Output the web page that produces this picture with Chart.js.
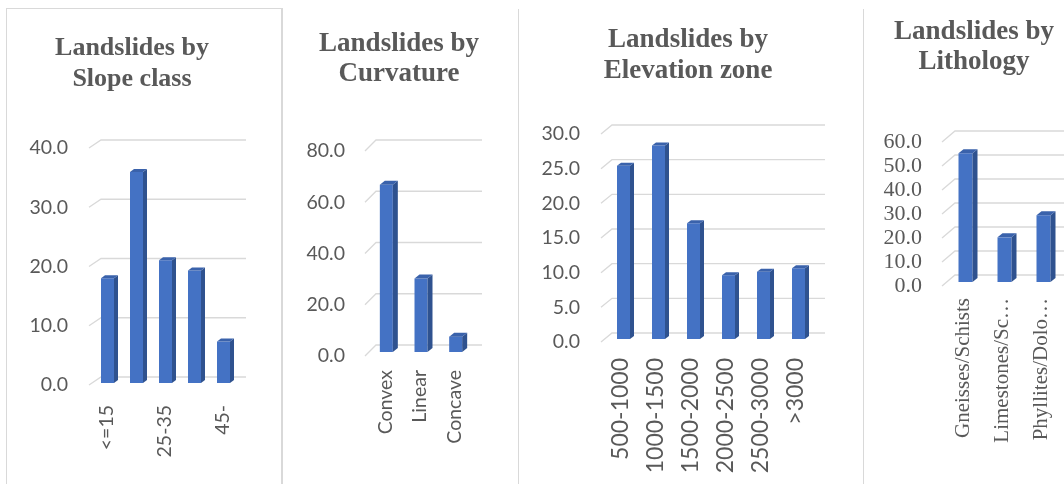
<!DOCTYPE html>
<html>
<head>
<meta charset="utf-8">
<title>Landslide distribution by terrain factor</title>
<script src="https://cdn.jsdelivr.net/npm/chart.js@4.4.1/dist/chart.umd.min.js"></script>
<style>
  html, body { margin: 0; padding: 0; background: #ffffff; }
  #wrap { position: relative; width: 1064px; height: 484px; overflow: hidden; background: #ffffff; }
  .sep { position: absolute; background: #d9d9d9; }
  canvas { position: absolute; top: 0; }
</style>
</head>
<body>
<div id="wrap">
  <div class="sep" style="left:6px;top:8px;width:1px;height:476px"></div>
  <div class="sep" style="left:6px;top:8px;width:275px;height:1px"></div>
  <div class="sep" style="left:281px;top:8px;width:2px;height:476px"></div>
  <div class="sep" style="left:518px;top:9px;width:1px;height:475px"></div>
  <div class="sep" style="left:863px;top:9px;width:1px;height:475px"></div>
  <canvas id="slope"></canvas>
  <canvas id="curvature"></canvas>
  <canvas id="elevation"></canvas>
  <canvas id="lithology"></canvas>
</div>
<script>
// Share of landslides (%) in each class of the four terrain factors
const slopeClasses = ['<=15', '15-25', '25-35', '35-45', '45-'];
const slopeShare = [17.7, 35.6, 20.7, 19.0, 7.0];
const slopeTicks = [0, 10, 20, 30, 40];

const curvatureTypes = ['Convex', 'Linear', 'Concave'];
const curvatureShare = [65.3, 28.7, 6.0];
const curvatureTicks = [0, 20, 40, 60, 80];

const elevationZones = ['500-1000', '1000-1500', '1500-2000', '2000-2500', '2500-3000', '>3000'];
const elevationShare = [25.0, 27.9, 16.7, 9.2, 9.7, 10.2];
const elevationTicks = [0, 5, 10, 15, 20, 25, 30];

const lithologyUnits = ['Gneisses/Schists', 'Limestones/Sc\u2026', 'Phyllites/Dolo\u2026'];
const lithologyShare = [53.6, 18.6, 27.8];
const lithologyTicks = [0, 10, 20, 30, 40, 50, 60];

const FRONT = '#4472c4';
const SIDE = '#2f528f';
const TOP = '#3a62ab';
const GRID = '#d9d9d9';
const TEXT = '#595959';

// Pseudo-3D columns: back-wall gridlines with a floor diagonal, and
// side / top faces added to each column drawn by the bar controller.
const depth3d = {
  id: 'depth3d',
  beforeDatasetsDraw(chart, args, o) {
    const { ctx, chartArea: a } = chart;
    const ys = chart.scales.y;
    ctx.save();
    ctx.strokeStyle = GRID;
    ctx.lineWidth = 1.3;
    ys.ticks.forEach(t => {
      const py = ys.getPixelForValue(t.value);
      ctx.beginPath();
      ctx.moveTo(a.left, py);
      ctx.lineTo(a.left + o.grid[0], py + o.grid[1]);
      ctx.lineTo(a.right + o.grid[0] + o.ext, py + o.grid[1]);
      ctx.stroke();
    });
    ctx.restore();
    ctx.save();
    ctx.translate(o.shift[0], o.shift[1]);
  },
  afterDatasetsDraw(chart, args, o) {
    const ctx = chart.ctx;
    const [dx, dy] = o.side;
    chart.getDatasetMeta(0).data.forEach(bar => {
      const { x, y, base, width } = bar.getProps(['x', 'y', 'base', 'width'], true);
      const l = x - width / 2, r = x + width / 2;
      ctx.fillStyle = SIDE;
      ctx.beginPath();
      ctx.moveTo(r, y); ctx.lineTo(r + dx, y + dy); ctx.lineTo(r + dx, base + dy); ctx.lineTo(r, base);
      ctx.closePath(); ctx.fill();
      ctx.fillStyle = TOP;
      ctx.beginPath();
      ctx.moveTo(l, y); ctx.lineTo(l + dx, y + dy); ctx.lineTo(r + dx, y + dy); ctx.lineTo(r, y);
      ctx.closePath(); ctx.fill();
    });
    ctx.restore();
  }
};

function makePanel(id, p) {
  const cv = document.getElementById(id);
  cv.width = p.w; cv.height = 484;
  cv.style.left = p.left + 'px';
  cv.style.width = p.w + 'px'; cv.style.height = '484px';
  return new Chart(cv, {
    type: 'bar',
    data: {
      labels: p.labels,
      datasets: [{
        data: p.values,
        backgroundColor: FRONT,
        borderWidth: 0,
        categoryPercentage: 1,
        barPercentage: p.barFrac
      }]
    },
    options: {
      responsive: false,
      animation: false,
      events: [],
      layout: { padding: { left: p.padL, right: p.padR, top: 0, bottom: 0 } },
      plugins: {
        legend: { display: false },
        tooltip: { enabled: false },
        title: {
          display: true,
          text: ['Landslides by', p.title],
          color: TEXT,
          font: { family: 'Liberation Serif', weight: 'bold', size: p.titleSize, lineHeight: p.titleLH + 'px' },
          padding: { top: p.titleTop, bottom: p.titleBottom }
        },
        depth3d: { grid: p.grid, ext: p.ext, shift: p.shift, side: p.side }
      },
      scales: {
        x: {
          grid: { display: false, drawTicks: false },
          border: { display: false },
          ticks: {
            autoSkip: false, minRotation: 90, maxRotation: 90,
            padding: p.xPad, labelOffset: p.labelOffset,
            color: TEXT,
            font: { family: p.xFont, size: p.xSize },
            callback: (v, i) => (p.every && i % p.every) ? '' : p.labels[i]
          },
          afterFit: s => {
            s.height = p.xH;
            s.paddingLeft = 0; s.paddingRight = 0;
          }
        },
        y: {
          min: p.ticks[0], max: p.ticks[p.ticks.length - 1],
          grid: { display: false, drawTicks: false },
          border: { display: false },
          ticks: {
            stepSize: p.ticks[1] - p.ticks[0],
            autoSkip: false,
            padding: p.yPad,
            color: TEXT,
            font: { family: p.yFont, size: p.ySize, lineHeight: 1 },
            callback: v => Number(v).toFixed(1)
          },
          afterFit: s => { s.width = p.yW; }
        },
        // empty right-hand band that holds the depth of the back wall
        depthBand: {
          type: 'linear', position: 'right',
          grid: { display: false, drawTicks: false },
          border: { display: false },
          ticks: { display: false },
          afterFit: s => { s.width = p.rW; }
        }
      }
    },
    plugins: [depth3d]
  });
}

makePanel('slope', {
  labels: slopeClasses, values: slopeShare, ticks: slopeTicks, title: 'Slope class', every: 2,
  left: 0, w: 259, padL: 25, padR: 20, yW: 64, rW: 5, xH: 99,
  titleSize: 26, titleLH: 31, titleTop: 32.5, titleBottom: 53.5,
  xPad: 20, yPad: 21, labelOffset: 3, barFrac: 13 / 29,
  grid: [12, -8], ext: 0, shift: [4, -2], side: [4, -3],
  xFont: 'Lato', xSize: 19.5, yFont: 'Lato', ySize: 19.5
});

makePanel('curvature', {
  labels: curvatureTypes, values: curvatureShare, ticks: curvatureTicks, title: 'Curvature', every: 0,
  left: 290, w: 207, padL: 11, padR: 0, yW: 64, rW: 28, xH: 128,
  titleSize: 27, titleLH: 30, titleTop: 29, titleBottom: 62,
  xPad: 14, yPad: 20, labelOffset: 3, barFrac: 13 / 34.7,
  grid: [11, -11], ext: 2, shift: [4, -4], side: [5, -4],
  xFont: 'Lato', xSize: 19.5, yFont: 'Lato', ySize: 19.5
});

makePanel('elevation', {
  labels: elevationZones, values: elevationShare, ticks: elevationTicks, title: 'Elevation zone', every: 0,
  left: 530, w: 309, padL: 7, padR: 0, yW: 64, rW: 28, xH: 142,
  titleSize: 27, titleLH: 31, titleTop: 24.5, titleBottom: 47.5,
  xPad: 16, yPad: 21, labelOffset: 2, barFrac: 13 / 35,
  grid: [11, -9], ext: 3, shift: [5, -3], side: [4, -3],
  xFont: 'Lato', xSize: 23, yFont: 'Lato', ySize: 19.5
});

makePanel('lithology', {
  labels: lithologyUnits, values: lithologyShare, ticks: lithologyTicks, title: 'Lithology', every: 0,
  left: 870, w: 200, padL: 8, padR: 0, yW: 64, rW: 11, xH: 198,
  titleSize: 27, titleLH: 30, titleTop: 17, titleBottom: 65,
  xPad: 12, yPad: 20, labelOffset: 2, barFrac: 14 / 39,
  grid: [13, -11], ext: 0, shift: [4, -4], side: [5, -4],
  xFont: 'Liberation Serif', xSize: 21, yFont: 'Liberation Serif', ySize: 22
});
</script>
</body>
</html>
